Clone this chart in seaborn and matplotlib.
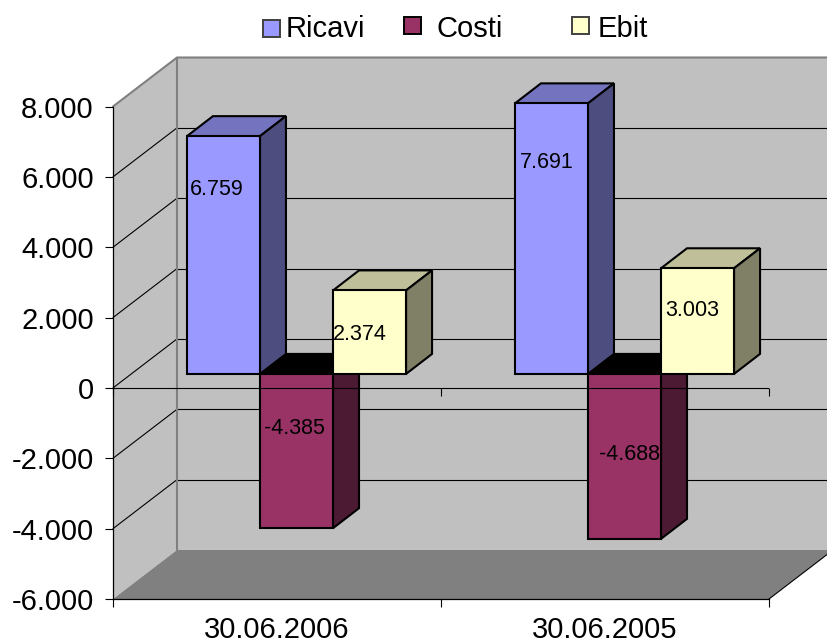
import numpy as np
import pandas as pd
import seaborn as sns
import matplotlib.pyplot as plt
from matplotlib.patches import Polygon, Rectangle
from matplotlib.ticker import FixedLocator, FuncFormatter

# data
periods = ['30.06.2006', '30.06.2005']
series = ['Ricavi', 'Costi', 'Ebit']
ricavi = [6759, 7691]
costi = [-4385, -4688]
ebit = [2374, 3003]

# colours: front, top, side
front_cols = ['#9999FF', '#993366', '#FFFFCC']
top_cols = ['#7373BF', '#000000', '#BFBF99']
side_cols = ['#4D4D80', '#4D1A33', '#808066']

W, H = 827, 643
L, R, T, B = 113, 769, 106.5, 599
y_min, y_max = -6000, 8000
x_min, x_max = -0.5, 1.5

# pixel sizes -> data units
px_x = (R - L) / (x_max - x_min)
px_y = (B - T) / (y_max - y_min)


def dx(p):
    return p / px_x


def dy(p):
    return p / px_y


wall_dx, wall_dy = dx(64), dy(49)
shift_x, shift_y = dx(19.5), dy(14)
bar_dx, bar_dy = dx(26), dy(20)

df = pd.DataFrame({
    'Periodo': periods * 3,
    'Serie': np.repeat(series, 2),
    'Valore': ricavi + costi + ebit,
})

sns.set_theme(style='white')
plt.rcParams['font.family'] = ['Liberation Sans', 'DejaVu Sans']

fig = plt.figure(figsize=(W / 100, H / 100), dpi=100)
ax = fig.add_axes([L / W, 1 - B / H, (R - L) / W, (B - T) / H])

sns.barplot(data=df, x='Periodo', y='Valore', hue='Serie', hue_order=series,
            palette=front_cols, saturation=1, width=0.668, gap=0, legend=False,
            edgecolor='black', linewidth=1.5, ax=ax)

ax.set_xlim(x_min, x_max)
ax.set_ylim(y_min, y_max)
ax.patch.set_visible(False)
ax.set_xlabel('')
ax.set_ylabel('')

# walls and floor
wall_col = '#C0C0C0'
ax.add_patch(Rectangle((x_min + wall_dx, y_min + wall_dy), x_max - x_min, y_max - y_min,
                       fc=wall_col, ec='none', clip_on=False, zorder=0.1))
ax.add_patch(Polygon([(x_min, y_min), (x_min + wall_dx, y_min + wall_dy),
                      (x_min + wall_dx, y_max + wall_dy), (x_min, y_max)],
                     fc=wall_col, ec='none', clip_on=False, zorder=0.1))
ax.add_patch(Polygon([(x_min, y_min), (x_min + wall_dx, y_min + wall_dy),
                      (x_max + wall_dx, y_min + wall_dy), (x_max, y_min)],
                     fc='#808080', ec='none', clip_on=False, zorder=0.2))

# gridlines on the two walls
grid_vals = np.arange(y_min + 2000, y_max, 2000)
for v in grid_vals:
    ax.plot([x_min, x_min + wall_dx], [v, v + wall_dy], color='black', lw=0.8,
            clip_on=False, zorder=0.3)
    ax.plot([x_min + wall_dx, x_max + wall_dx], [v + wall_dy, v + wall_dy], color='black',
            lw=0.8, clip_on=False, zorder=0.3)

# wall borders
ax.plot([x_min, x_min + wall_dx, x_max + wall_dx], [y_max, y_max + wall_dy, y_max + wall_dy],
        color='#808080', lw=1.5, clip_on=False, zorder=0.4)
ax.plot([x_min + wall_dx, x_min + wall_dx], [y_min + wall_dy, y_max + wall_dy],
        color='#808080', lw=1.5, clip_on=False, zorder=0.4)
ax.plot([x_max, x_max + wall_dx], [y_min, y_min + wall_dy], color='black', lw=0.8,
        clip_on=False, zorder=0.4)

# turn the flat bars into boxes. costi goes first, the others sit over its top
draw_order = {0: 3, 1: 2, 2: 4}
for i, cont in enumerate(ax.containers):
    z = draw_order[i]
    for bar in cont:
        bar.set_x(bar.get_x() + shift_x)
        bar.set_y(bar.get_y() + shift_y)
        bar.set_zorder(z + 0.2)
        bar.set_clip_on(False)
        x0 = bar.get_x()
        x1 = x0 + bar.get_width()
        y0 = bar.get_y()
        y1 = y0 + bar.get_height()
        y_top = max(y0, y1)
        y_low = min(y0, y1)
        ax.add_patch(Polygon([(x0, y_top), (x0 + bar_dx, y_top + bar_dy),
                              (x1 + bar_dx, y_top + bar_dy), (x1, y_top)],
                             fc=top_cols[i], ec='black', lw=1.5, clip_on=False, zorder=z))
        ax.add_patch(Polygon([(x1, y_low), (x1 + bar_dx, y_low + bar_dy),
                              (x1 + bar_dx, y_top + bar_dy), (x1, y_top)],
                             fc=side_cols[i], ec='black', lw=1.5, clip_on=False, zorder=z + 0.1))

# zero line runs over the bars
edges = [x_min, 0.5, x_max]
ax.plot([x_min, x_max], [0, 0], color='black', lw=0.8, zorder=6)
ax.vlines(edges, 0, -dy(8), color='black', lw=0.8, zorder=6, clip_on=False)

# axes
for side in ['top', 'right']:
    ax.spines[side].set_visible(False)
for side in ['left', 'bottom']:
    ax.spines[side].set_color('black')
    ax.spines[side].set_linewidth(0.9)
    ax.spines[side].set_zorder(5)
ax.yaxis.set_major_locator(FixedLocator(np.arange(y_min, y_max + 1, 2000)))
ax.yaxis.set_major_formatter(FuncFormatter(lambda v, pos: f'{int(v):,}'.replace(',', '.')))
ax.tick_params(axis='y', which='major', left=True, length=5.8, width=0.8, color='black',
               pad=8, labelsize=21, labelcolor='black')
ax.xaxis.set_minor_locator(FixedLocator(edges))
ax.tick_params(axis='x', which='minor', bottom=True, length=5.8, width=0.8, color='black')
ax.tick_params(axis='x', which='major', bottom=False, length=0, pad=12.5, labelsize=21,
               labelcolor='black')

# data labels, placed by hand like the original
label_vals = ricavi + costi + ebit
label_pos = [(217, 190), (547, 163), (294, 429), (629, 454), (360, 334), (692, 310)]
for v, (px, py) in zip(label_vals, label_pos):
    fig.text(px / W, 1 - py / H, f'{v:,}'.replace(',', '.'), fontsize=15.5, color='black',
             ha='center', va='center', zorder=10)

# legend
legend_swatches = [(263, 20, '#404040'), (404, 17, 'black'), (572, 17, '#404040')]
legend_text_x = [286, 437, 598]
for name, col, (sx, sy, ec), tx in zip(series, front_cols, legend_swatches, legend_text_x):
    fig.add_artist(Rectangle((sx / W, 1 - (sy + 17) / H), 17 / W, 17 / H, fc=col, ec=ec, lw=1.4,
                             transform=fig.transFigure))
    fig.text(tx / W, 1 - 37 / H, name, fontsize=21, color='black', ha='left', va='baseline')

fig.savefig('out.png', dpi=100)
